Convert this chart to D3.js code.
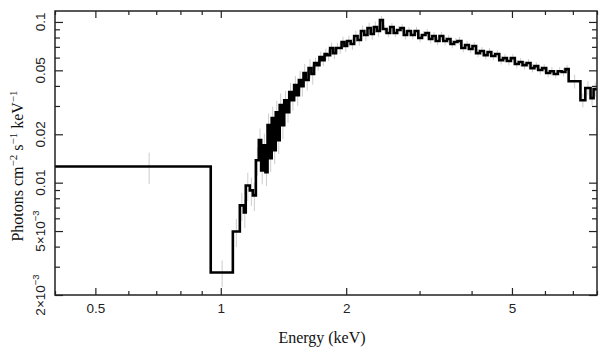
<!DOCTYPE html>
<html><head><meta charset="utf-8">
<script src="https://cdn.jsdelivr.net/npm/d3@7"></script>
<style>body{margin:0;background:#fff}svg{display:block}</style>
</head><body><svg id="c" width="609" height="357"></svg>
<script>
// ---- data ----
const binEdges = [0.4, 0.946, 1.069, 1.111, 1.136, 1.148, 1.174, 1.194, 1.214, 1.234,
  1.25, 1.265, 1.28, 1.295, 1.31, 1.325, 1.34, 1.355, 1.37, 1.385,
  1.40, 1.42, 1.44, 1.46, 1.48, 1.50, 1.52, 1.54, 1.56, 1.58,
  1.60, 1.625, 1.65, 1.675, 1.70, 1.725, 1.75, 1.775, 1.80, 1.83,
  1.86, 1.89, 1.92, 1.95, 1.98, 2.01, 2.05, 2.09, 2.13, 2.17,
  2.21, 2.25, 2.29, 2.33, 2.37, 2.41, 2.45, 2.50, 2.55, 2.60,
  2.65, 2.70, 2.75, 2.80, 2.86, 2.92, 2.98, 3.04, 3.10, 3.16,
  3.22, 3.28, 3.35, 3.42, 3.49, 3.56, 3.63, 3.70, 3.78, 3.86,
  3.94, 4.02, 4.10, 4.19, 4.28, 4.37, 4.46, 4.56, 4.66, 4.76,
  4.86, 4.97, 5.08, 5.19, 5.30, 5.42, 5.54, 5.66, 5.78, 5.91,
  6.04, 6.17, 6.30, 6.44, 6.58, 6.72, 6.84, 7.30, 7.50, 7.72,
  7.85, 8.00];
const flux = [0.0126, 0.00276, 0.00497, 0.00722, 0.00653, 0.0096, 0.00895, 0.00833, 0.0138,
  0.0184, 0.0119, 0.0171, 0.0116, 0.0228, 0.0142, 0.0252, 0.0159, 0.0274, 0.0184,
  0.0304, 0.0228, 0.0326, 0.0274, 0.0366, 0.0326, 0.0405, 0.0350, 0.0435, 0.0399,
  0.0481, 0.0435, 0.0516, 0.0474, 0.0555, 0.0539, 0.0605, 0.0579, 0.0632, 0.0622,
  0.0688, 0.0640, 0.0688, 0.0688, 0.0750, 0.0708, 0.0761, 0.0729, 0.0818, 0.0772,
  0.0879, 0.0829, 0.0918, 0.0842, 0.0931, 0.0879, 0.1029, 0.0904, 0.0854, 0.0931,
  0.0854, 0.0891, 0.0918, 0.0829, 0.0879, 0.0829, 0.0879, 0.0795, 0.0829, 0.0854,
  0.0783, 0.0818, 0.0761, 0.0818, 0.0761, 0.0783, 0.0729, 0.0750, 0.0761, 0.0688,
  0.0719, 0.0679, 0.0708, 0.0640, 0.0659, 0.0622, 0.0650, 0.0614, 0.0632, 0.0579,
  0.0596, 0.0571, 0.0596, 0.0547, 0.0563, 0.0539, 0.0555, 0.0516, 0.0531, 0.0502,
  0.0516, 0.0481, 0.0494, 0.0474, 0.0494, 0.0488, 0.0509, 0.0428, 0.0326, 0.0388,
  0.0336, 0.0382];
const relErr = [0.22, 0.19, 0.2, 0.2, 0.2, 0.2, 0.2, 0.2, 0.2,
  0.18, 0.18, 0.18, 0.18, 0.18, 0.18, 0.18, 0.18, 0.18, 0.18,
  0.18, 0.18, 0.14, 0.14, 0.14, 0.14, 0.14, 0.14, 0.14, 0.14,
  0.14, 0.14, 0.14, 0.14, 0.08, 0.08, 0.08, 0.08, 0.08, 0.08,
  0.08, 0.08, 0.08, 0.08, 0.08, 0.08, 0.08, 0.08, 0.08, 0.08,
  0.08, 0.08, 0.08, 0.08, 0.08, 0.08, 0.06, 0.06, 0.06, 0.06,
  0.06, 0.06, 0.06, 0.06, 0.06, 0.06, 0.06, 0.06, 0.06, 0.06,
  0.06, 0.06, 0.06, 0.06, 0.06, 0.06, 0.06, 0.06, 0.06, 0.06,
  0.06, 0.06, 0.06, 0.06, 0.06, 0.06, 0.06, 0.06, 0.06, 0.06,
  0.06, 0.06, 0.06, 0.06, 0.06, 0.06, 0.06, 0.06, 0.06, 0.06,
  0.06, 0.06, 0.06, 0.06, 0.06, 0.06, 0.06, 0.1, 0.1, 0.1,
  0.1, 0.1];
const xMajorTicks = [0.5, 1, 2, 5];
const xMinorTicks = [0.4, 0.6, 0.7, 0.8, 0.9, 3, 4, 6, 7, 8];
const yMajorTicks = [0.002, 0.005, 0.01, 0.02, 0.05, 0.1];
const yMajorLabels = [["2\u00d710", "\u22123"], ["5\u00d710", "\u22123"], ["0.01", ""], ["0.02", ""], ["0.05", ""], ["0.1", ""]];
const yMinorTicks = [0.003, 0.004, 0.006, 0.007, 0.008, 0.009, 0.03, 0.04, 0.06, 0.07, 0.08, 0.09];
const xTitle = "Energy (keV)";
const yTitleParts = [["Photons cm", ""], ["\u22122", "sup"], [" s", ""], ["\u22121", "sup"], [" keV", ""], ["\u22121", "sup"]];

// ---- layout ----
const m = {l: 55, r: 597, t: 11, b: 295};
const x = d3.scaleLog().domain([0.4, 8]).range([m.l, m.r]);
const y = d3.scaleLog().domain([0.002, 0.117]).range([m.b, m.t]);
const svg = d3.select('#c');
const sans = "'Liberation Sans', Arial, Helvetica, sans-serif";
const serif = "'Liberation Serif', 'Times New Roman', serif";

svg.append('clipPath').attr('id', 'clip').append('rect')
  .attr('x', m.l).attr('y', m.t).attr('width', m.r - m.l).attr('height', m.b - m.t);

const n = Math.min(flux.length, binEdges.length - 1);
const bins = d3.range(n).map(i => ({x0: binEdges[i], x1: binEdges[i + 1], v: flux[i], e: flux[i] * relErr[i]}));

// error bars
svg.append('g').attr('clip-path', 'url(#clip)')
  .selectAll('line').data(bins).join('line')
  .attr('x1', d => x((d.x0 + d.x1) / 2)).attr('x2', d => x((d.x0 + d.x1) / 2))
  .attr('y1', d => y(d.v + d.e)).attr('y2', d => y(d.v - d.e))
  .attr('stroke', '#cdcdcd').attr('stroke-width', 1);

// step histogram
const pts = bins.map(d => [d.x0, d.v]);
pts.push([bins[n - 1].x1, bins[n - 1].v]);
const line = d3.line().x(d => x(d[0])).y(d => y(d[1])).curve(d3.curveStepAfter);
svg.append('path').attr('clip-path', 'url(#clip)').attr('d', line(pts))
  .attr('fill', 'none').attr('stroke', '#000').attr('stroke-width', 2.6);

// axes (ticks inside on all four sides)
function tidy(g) {
  g.select('.domain').remove();
  g.selectAll('line').attr('stroke', '#222').attr('stroke-width', 1.2);
  g.selectAll('text').attr('fill', '#222').style('font-family', sans).style('font-size', '13.5px');
}
svg.append('g').attr('transform', `translate(0,${m.b})`)
  .call(d3.axisBottom(x).tickValues(xMajorTicks).tickSize(-7).tickPadding(8).tickFormat(d => String(d))).call(tidy);
svg.append('g').attr('transform', `translate(0,${m.b})`)
  .call(d3.axisBottom(x).tickValues(xMinorTicks).tickSize(-4).tickFormat('')).call(tidy);
svg.append('g').attr('transform', `translate(0,${m.t})`)
  .call(d3.axisTop(x).tickValues(xMajorTicks).tickSize(-7).tickFormat('')).call(tidy);
svg.append('g').attr('transform', `translate(0,${m.t})`)
  .call(d3.axisTop(x).tickValues(xMinorTicks).tickSize(-4).tickFormat('')).call(tidy);
svg.append('g').attr('transform', `translate(${m.l},0)`)
  .call(d3.axisLeft(y).tickValues(yMajorTicks).tickSize(-8).tickFormat('')).call(tidy);
svg.append('g').attr('transform', `translate(${m.l},0)`)
  .call(d3.axisLeft(y).tickValues(yMinorTicks).tickSize(-5).tickFormat('')).call(tidy);
svg.append('g').attr('transform', `translate(${m.r},0)`)
  .call(d3.axisRight(y).tickValues(yMajorTicks).tickSize(-8).tickFormat('')).call(tidy);
svg.append('g').attr('transform', `translate(${m.r},0)`)
  .call(d3.axisRight(y).tickValues(yMinorTicks).tickSize(-5).tickFormat('')).call(tidy);

// y tick labels (rotated)
const yl = svg.append('g').selectAll('text').data(yMajorTicks).join('text')
  .attr('transform', d => `translate(45,${y(d)}) rotate(-90)`)
  .attr('text-anchor', 'middle').attr('fill', '#222')
  .style('font-family', sans).style('font-size', '13.5px');
yl.each(function (d, i) {
  const t = d3.select(this), lab = yMajorLabels[i];
  t.append('tspan').text(lab[0]);
  if (lab[1]) t.append('tspan').attr('dy', -6).style('font-size', '9.5px').text(lab[1]);
});

// frame
svg.append('rect').attr('x', m.l).attr('y', m.t).attr('width', m.r - m.l).attr('height', m.b - m.t)
  .attr('fill', 'none').attr('stroke', '#222').attr('stroke-width', 1.5);

// titles
svg.append('text').attr('x', (m.l + m.r) / 2 - 4).attr('y', 343).attr('text-anchor', 'middle')
  .style('font-family', serif).style('font-size', '16px').attr('fill', '#111').text(xTitle);
const yt = svg.append('text').attr('transform', 'translate(23,166) rotate(-90)').attr('text-anchor', 'middle')
  .style('font-family', serif).style('font-size', '16px').attr('fill', '#111');
let up = false;
yTitleParts.forEach(p => {
  const ts = yt.append('tspan').text(p[0]);
  if (p[1] === 'sup' && !up) { ts.attr('dy', -6).style('font-size', '11px'); up = true; }
  else if (p[1] !== 'sup' && up) { ts.attr('dy', 6); up = false; }
});
</script></body></html>
